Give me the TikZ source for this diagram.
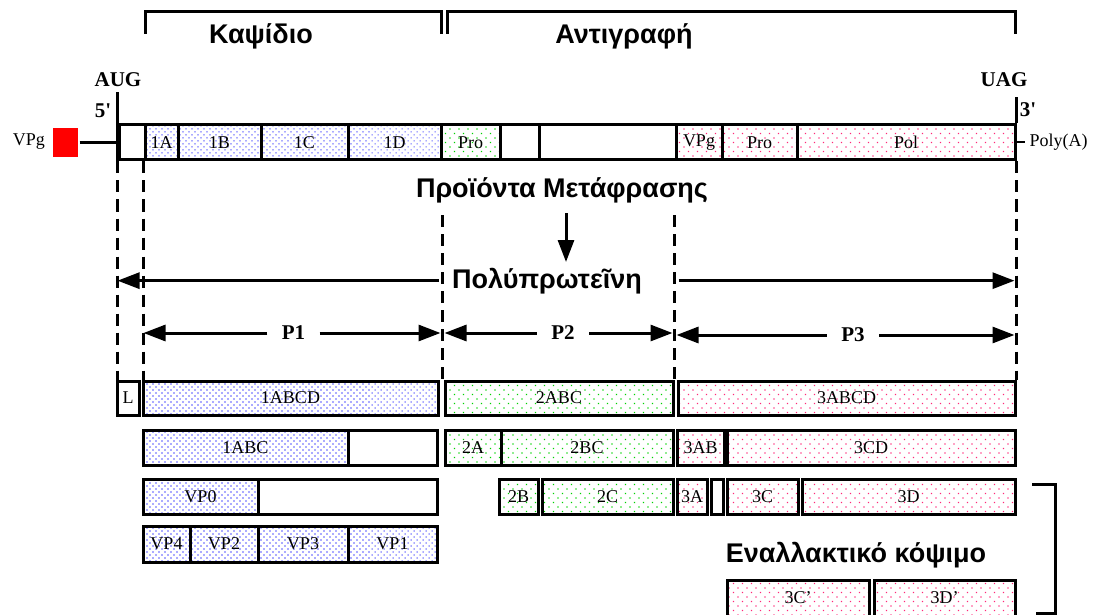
\documentclass[tikz,border=0pt]{standalone}
\usepackage{fontspec}
\setmainfont{Liberation Serif}
\newfontfamily\grk{Liberation Sans}
\usetikzlibrary{patterns.meta,arrows.meta}
\definecolor{dotblue}{RGB}{60,60,255}
\definecolor{dotgreen}{RGB}{0,210,0}
\definecolor{dotpink}{RGB}{255,40,120}
\definecolor{vpgred}{RGB}{255,0,0}
\begin{document}
\begin{tikzpicture}[x=1pt,y=-1pt,line width=3pt,
		seg/.style={draw,inner sep=0pt,minimum height=#1,font=\fontsize{18}{18}\selectfont},
		blu/.style={pattern={Dots[distance=4.243pt,angle=45,radius=0.75pt]},pattern color=dotblue},
		grn/.style={pattern={Dots[distance=6.364pt,angle=45,radius=0.9pt]},pattern color=dotgreen},
		pnk/.style={pattern={Dots[distance=6.364pt,angle=45,radius=0.9pt]},pattern color=dotpink},
		title/.style={font=\grk\bfseries\fontsize{27}{27}\selectfont,anchor=base,inner sep=0pt},
		tag/.style={font=\bfseries\fontsize{21}{21}\selectfont,inner sep=0pt},
		plab/.style={tag,inner xsep=13pt},
		guide/.style={dash pattern=on 12pt off 7pt},
		fwd/.style={-{Triangle[length=22pt,width=16pt]}}]
	\useasboundingbox (0,0) rectangle (1101,615);
	% brackets over the genome
	\draw (145,34)--(145,12)--(441,12)--(441,34);
	\draw (447,34)--(447,12)--(1015,12)--(1015,34);
	\node[title] (capsid) at (261,44) {Καψίδιο};
	\node[title] (repl) at (624,44) {Αντιγραφή};
	\node[tag] (aug) at (118,80) {AUG};
	\node[tag] (five) at (103,111) {5\textquotesingle};
	\node[tag] (uag) at (1004,80) {UAG};
	\node[tag] (three) at (1028,110) {3\textquotesingle};
	% genome
	\node[seg=35,minimum width=26] (g0) at (132,142.5) {};
	\node[seg=35,blu,minimum width=33] (g1A) at (161.5,142.5) {1A};
	\node[seg=35,blu,minimum width=83] (g1B) at (219.5,142.5) {1B};
	\node[seg=35,blu,minimum width=87] (g1C) at (304.5,142.5) {1C};
	\node[seg=35,blu,minimum width=93] (g1D) at (394.5,142.5) {1D};
	\node[seg=35,grn,minimum width=59] (gPro) at (470.5,142.5) {Pro};
	\node[seg=35,minimum width=39] (gE1) at (519.5,142.5) {};
	\node[seg=35,minimum width=137] (gE2) at (607.5,142.5) {};
	\node[seg=35,pnk,minimum width=46] (gVPg) at (699,142.5) {VPg};
	\node[seg=35,pnk,minimum width=75] (gPro3) at (759.5,142.5) {Pro};
	\node[seg=35,pnk,minimum width=218] (gPol) at (906,142.5) {Pol};
	\draw (g0.south west) -- ++(0,-69);
	\draw (gPol.north east) -- ++(0,-26);
	\node[font=\fontsize{18}{18}\selectfont,inner sep=0pt] (vpgtag) at (29,142) {VPg};
	\node[fill=vpgred,minimum width=25,minimum height=29,inner sep=0pt] (vpgsq) at (65.5,142.5) {};
	\draw (vpgsq.east) -- (g0.west);
	\node[font=\fontsize{18}{18}\selectfont,anchor=west,inner sep=0pt] (polyA) at (1028,142.5) {Poly(A)};
	\draw[line width=2pt] (gPol.east) -- ([xshift=-3pt]polyA.west);
	% translation
	\node[title] (prod) at (562,197) {Προϊόντα Μετάφρασης};
	\node[title] (poly) at (547,288) {Πολύπρωτεῖνη};
	\coordinate (gtop) at (0,215);
	\draw[fwd] (566,213) -- (566,262);
	% products
	\node[seg=34,minimum width=22] (bL) at (128,398) {L};
	\node[seg=34,blu,minimum width=295] (b1ABCD) at (290.5,398) {1ABCD};
	\node[seg=34,grn,minimum width=228] (b2ABC) at (559,398) {2ABC};
	\node[seg=34,pnk,minimum width=337] (b3ABCD) at (846.5,398) {3ABCD};
	\node[seg=35,blu,minimum width=205] (b1ABC) at (245.5,447.5) {1ABC};
	\node[seg=35,minimum width=89] (b1w) at (392.5,447.5) {};
	\node[seg=35,grn,minimum width=56] (b2A) at (473,447.5) {2A};
	\node[seg=35,grn,minimum width=172] (b2BC) at (587,447.5) {2BC};
	\node[seg=35,pnk,minimum width=47] (b3AB) at (700.5,447.5) {3AB};
	\node[seg=35,pnk,minimum width=288] (b3CD) at (871,447.5) {3CD};
	\node[seg=35,blu,minimum width=115] (bVP0) at (200.5,496.5) {VP0};
	\node[seg=35,minimum width=179] (b0w) at (347.5,496.5) {};
	\node[seg=35,grn,minimum width=39] (b2B) at (518.5,496.5) {2B};
	\node[seg=35,grn,minimum width=131] (b2C) at (607.5,496.5) {2C};
	\node[seg=35,pnk,minimum width=30] (b3A) at (692,496.5) {3A};
	\node[seg=35,minimum width=12] (bsm) at (717,496.5) {};
	\node[seg=35,pnk,minimum width=71] (b3C) at (762.5,496.5) {3C};
	\node[seg=35,pnk,minimum width=213] (b3D) at (908.5,496.5) {3D};
	\node[seg=36,blu,minimum width=47] (bVP4) at (166.5,544) {VP4};
	\node[seg=36,blu,minimum width=68] (bVP2) at (224,544) {VP2};
	\node[seg=36,blu,minimum width=90] (bVP3) at (303,544) {VP3};
	\node[seg=36,blu,minimum width=89] (bVP1) at (392.5,544) {VP1};
	\node[title] (alt) at (856,562) {Εναλλακτικό κόψιμο};
	\node[seg=36,pnk,minimum width=142] (b3Cp) at (798,598) {3C’};
	\node[seg=36,pnk,minimum width=141] (b3Dp) at (944.5,598) {3D’};
	\draw (1032,484) -- (1055,484) -- (1055,613) -- (1036,613);
	% guide lines
	\draw[guide] (g0.south west) -- (g0.south west |- bL.north);
	\draw[guide] (g1A.south west) -- (g1A.south west |- b1ABCD.north);
	\draw[guide] (g1D.east |- gtop) -- (g1D.east |- b1ABCD.north);
	\draw[guide] (gVPg.west |- gtop) -- (gVPg.west |- b3ABCD.north);
	\draw[guide] (gPol.south east) -- (gPol.south east |- b3ABCD.north);
	% polyprotein arrows
	\draw[fwd] ([xshift=-12pt]poly.west) -- (poly.west -| g0.west);
	\draw[fwd] ([xshift=4pt]poly.east -| gVPg.west) -- ([xshift=-2pt]poly.east -| gPol.east);
	\node[plab] (P1) at (293.5,333) {P1};
	\node[plab] (P2) at (563,333) {P2};
	\node[plab] (P3) at (853,335) {P3};
	\draw[fwd] (P1.west) -- (P1.west -| g1A.west);
	\draw[fwd] (P1.east) -- ([xshift=-2pt]P1.east -| g1D.east);
	\draw[fwd] (P2.west) -- ([xshift=2pt]P2.west -| g1D.east);
	\draw[fwd] (P2.east) -- ([xshift=-2pt]P2.east -| gVPg.west);
	\draw[fwd] (P3.west) -- ([xshift=2pt]P3.west -| gVPg.west);
	\draw[fwd] (P3.east) -- ([xshift=-2pt]P3.east -| gPol.east);
\end{tikzpicture}
\end{document}
